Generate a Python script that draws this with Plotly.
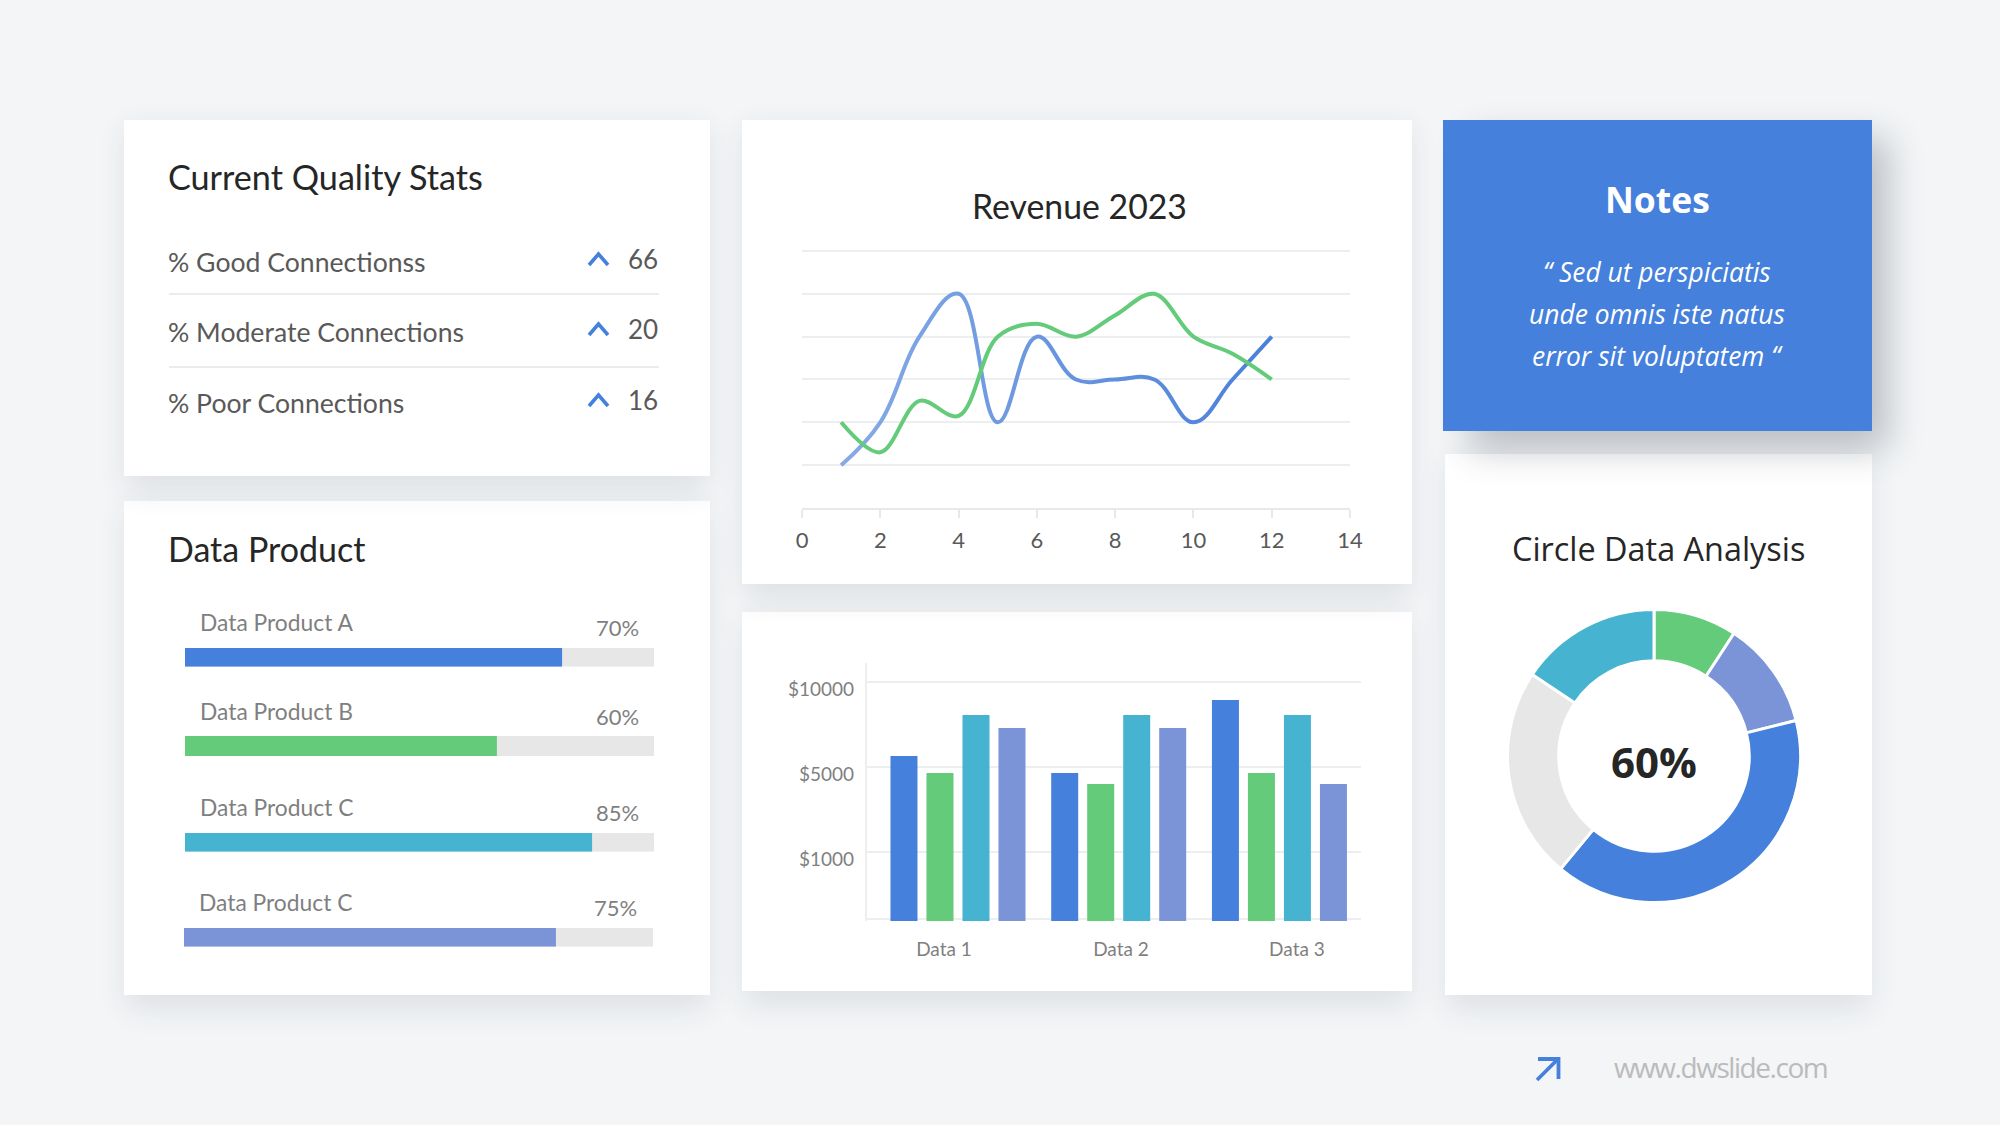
import plotly.graph_objects as go

W, H = 2000, 1125
BG = "#F3F5F7"
BLUE, GREEN, TEAL, PERI, GRAY = "#4580DC", "#63CB79", "#46B3D0", "#7B94D8", "#E7E7E7"
TITLE_FONT = "Lato"
NOTE_FONT = "Open Sans"
SHADOW_SOFT = "rgb(40,50,61)"
SHADOW_HARD = "rgb(40,50,62)"

# ---- data ----
stat_labels = ["% Good Connectionss", "% Moderate Connections", "% Poor Connections"]
stat_values = [66, 20, 16]

product_labels = ["Data Product A", "Data Product B", "Data Product C", "Data Product C"]
product_texts = ["70%", "60%", "85%", "75%"]
product_fill = [80.4, 66.5, 86.8, 79.3]
product_colors = [BLUE, GREEN, TEAL, PERI]

line_x = [1, 2, 3, 4, 5, 6, 7, 8, 9, 10, 11, 12]
line_blue = [1, 2, 4, 5, 2, 4, 3, 3, 3, 2, 3, 4]
line_green = [2, 1.3, 2.5, 2.15, 4, 4.3, 4, 4.5, 5, 4, 3.6, 3]

bar_groups = ["Data 1", "Data 2", "Data 3"]
bar_s1 = [6910, 6200, 9260]
bar_s2 = [6200, 5740, 6200]
bar_s3 = [8630, 8630, 8630]
bar_s4 = [8085, 8085, 5740]
bar_tick_vals = [2880, 6440, 10000]
bar_tick_text = ["$1000", "$5000", "$10000"]

donut_labels = ["Green", "Periwinkle", "Blue", "Gray", "Teal"]
donut_values = [9.2, 11.9, 39.9, 23.4, 15.6]
donut_colors = [GREEN, PERI, BLUE, GRAY, TEAL]

note_lines = ["“ Sed ut perspiciatis", "unde omnis iste natus", "error sit voluptatem “"]


def px(x):
    return x / W


def py(y):
    return 1 - y / H


shapes, annos = [], []


def rect(x0, y0, x1, y1, color, opacity=1):
    shapes.append(dict(type="rect", xref="paper", yref="paper", x0=px(x0), x1=px(x1), y0=py(y0), y1=py(y1),
                       fillcolor=color, opacity=opacity, line_width=0, layer="below"))


def card(x0, y0, x1, y1, color="#FFFFFF"):
    rect(x0 + 2, y0 + 8, x1 - 2, y1 + 14, SHADOW_SOFT, 0.10)
    rect(x0, y0, x1, y1, color)


def text(x, y, s, size, color, family=TITLE_FONT, anchor="left", bold=False, italic=False):
    annos.append(dict(xref="paper", yref="paper", x=px(x), y=py(y), text=f"<b>{s}</b>" if bold else s,
                      showarrow=False, xanchor=anchor, yanchor="middle",
                      font=dict(size=size, color=color, family=family,
                                style="italic" if italic else "normal"), borderpad=0))


def hline(x0, x1, y, color="#E4E6E9", width=1.5):
    shapes.append(dict(type="line", xref="paper", yref="paper", x0=px(x0), x1=px(x1), y0=py(y), y1=py(y),
                       line=dict(color=color, width=width), layer="below"))


def poly(points, color, width):
    d = "M " + " L ".join(f"{px(a):.5f},{py(b):.5f}" for a, b in points)
    shapes.append(dict(type="path", xref="paper", yref="paper", path=d,
                       line=dict(color=color, width=width), layer="above"))


# ---- cards (lower ones first, so the shadow of the upper one falls on them) ----
card(124, 501, 710, 995)
card(124, 120, 710, 476)
card(742, 612, 1412, 991)
card(742, 120, 1412, 584)
card(1445, 454, 1872, 995)
rect(1470, 138, 1888, 450, SHADOW_HARD, 0.28)
rect(1443, 120, 1872, 431, BLUE)

# ---- quality stats ----
text(167, 176.5, "Current Quality Stats", 34.2, "#262626")
for i, (lab, val) in enumerate(zip(stat_labels, stat_values)):
    yl = [261.5, 332, 403][i]
    yv = [259, 329, 400][i]
    text(167, yl, lab, 26.6, "#595959")
    text(659, yv, str(val), 26, "#595959", anchor="right")
    poly([(589, yv + 6), (598.5, yv - 5), (608, yv + 6)], BLUE, 3.6)
hline(169, 659, 294)
hline(169, 659, 367)

# ---- data product ----
text(167, 548.5, "Data Product", 34, "#262626")
prod_geo = [(185, 654, 648, 666.7, 199, 640, 622, 627),
            (185, 654, 736, 756, 199, 640, 711, 716),
            (185, 654, 833, 851.7, 199, 640, 807, 812),
            (184, 653, 928, 946.7, 198, 638, 902, 907)]

fig = go.Figure()
layout_axes = {}

# ---- line chart ----
fig.add_trace(go.Scatter(x=line_x, y=line_blue, mode="lines", xaxis="x", yaxis="y", name="Series 1",
                         line=dict(color="#6B98E0", width=4, shape="spline", smoothing=1.15), hoverinfo="skip"))
fig.add_trace(go.Scatter(x=line_x, y=line_green, mode="lines", xaxis="x", yaxis="y", name="Series 2",
                         line=dict(color=GREEN, width=4, shape="spline", smoothing=1.0), hoverinfo="skip"))
layout_axes["xaxis"] = dict(domain=[px(802), px(1350)], range=[0, 14], dtick=2, anchor="y", showgrid=False,
                            zeroline=False, showline=True, linecolor="#E6E8EA", linewidth=1.5, ticks="outside",
                            ticklen=8, tickcolor="#E6E8EA", tickwidth=1.5, ticklabelstandoff=4,
                            tickfont=dict(size=22, color="#595959", family=TITLE_FONT))
layout_axes["yaxis"] = dict(domain=[py(508), py(246.7)], range=[0, 6.1], tickmode="array", tickvals=[1, 2, 3, 4, 5, 6],
                            anchor="x", gridcolor="#ECEEF0", gridwidth=1.5, zeroline=False, showticklabels=False,
                            showline=False)
text(1079, 206, "Revenue 2023", 33.8, "#262626", anchor="center")

# ---- grouped bars ----
for vals, col, nm in zip([bar_s1, bar_s2, bar_s3, bar_s4], [BLUE, GREEN, TEAL, PERI], ["A", "B", "C", "D"]):
    fig.add_trace(go.Bar(x=[0, 1, 2], y=vals, marker=dict(color=col, line_width=0), xaxis="x2", yaxis="y2",
                         name=nm, hoverinfo="skip"))
layout_axes["xaxis2"] = dict(domain=[px(866.6), px(1361)], range=[-0.5686, 2.5075], anchor="y2", showgrid=False,
                             zeroline=False, showline=False, tickmode="array", tickvals=[-0.087, 1.014, 2.109],
                             ticktext=bar_groups, ticks="", ticklabelstandoff=15,
                             tickfont=dict(size=19, color="#7F7F7F", family=TITLE_FONT))
layout_axes["yaxis2"] = dict(domain=[py(921), py(663)], range=[0, 10810], anchor="x2", tickmode="array",
                             tickvals=[70] + bar_tick_vals, ticktext=[""] + bar_tick_text, gridcolor="#ECEEF0",
                             gridwidth=1.5, zeroline=False, showline=True, linecolor="#ECEEF0", linewidth=1.5, ticks="",
                             ticklabelshift=7, ticklabelstandoff=7,
                             tickfont=dict(size=19, color="#7F7F7F", family=TITLE_FONT))

# ---- progress bars ----
for i, geo in enumerate(prod_geo):
    x0, x1, y0, y1, lx, vx, ly, vy = geo
    n = i + 3
    for val, col in [(100, GRAY), (product_fill[i], product_colors[i])]:
        fig.add_trace(go.Bar(x=[val], y=[0], orientation="h", width=1, offsetgroup="p", marker=dict(color=col, line_width=0),
                             xaxis=f"x{n}", yaxis=f"y{n}", hoverinfo="skip"))
    layout_axes[f"xaxis{n}"] = dict(domain=[px(x0), px(x1)], range=[0, 100], visible=False, anchor=f"y{n}")
    layout_axes[f"yaxis{n}"] = dict(domain=[py(y1), py(y0)], range=[-0.5, 0.5], visible=False, anchor=f"x{n}")
    text(lx, ly, product_labels[i], 22.8, "#7F7F7F")
    text(vx, vy, product_texts[i], 22, "#7F7F7F", anchor="right")

# ---- donut ----
fig.add_trace(go.Pie(labels=donut_labels, values=donut_values, hole=0.65, sort=False, direction="clockwise", rotation=0,
                     marker=dict(colors=donut_colors, line=dict(color="#FFFFFF", width=3)), textinfo="none",
                     hoverinfo="skip", domain=dict(x=[px(1507.5), px(1800.5)], y=[py(902.5), py(609.5)])))
text(1658, 547.5, "Circle Data Analysis", 32.4, "#262626", family=NOTE_FONT, anchor="center")
text(1654, 761, "60%", 42, "#262626", family=NOTE_FONT, anchor="center", bold=True)

# ---- notes ----
text(1657, 199, "Notes", 35.5, "#FFFFFF", family=NOTE_FONT, anchor="center", bold=True)
for s, y in zip(note_lines, [272, 314, 356]):
    text(1657, y, s, 26.4, "#FFFFFF", family=NOTE_FONT, anchor="center", italic=True)

# ---- footer ----
poly([(1537, 1080), (1558, 1059)], BLUE, 3.8)
poly([(1538, 1059), (1558.5, 1059), (1558.5, 1079)], BLUE, 3.8)
text(1602, 1067, "www.dwslide.com", 28, "#BBBBBB", family=NOTE_FONT)

fig.update_layout(width=W, height=H, margin=dict(l=0, r=0, t=0, b=0, autoexpand=False), paper_bgcolor=BG,
                  plot_bgcolor="rgba(0,0,0,0)", showlegend=False, barmode="group", bargap=0.104, bargroupgap=0.25,
                  shapes=shapes, annotations=annos, **layout_axes)

post = """
document.body.style.margin='0';
var svg=document.querySelector('.main-svg');
var defs=svg.querySelector('defs');
var ns='http://www.w3.org/2000/svg';
var g=document.createElementNS(ns,'linearGradient');g.setAttribute('id','blueline');
[['0%','#86AAE5'],['100%','#4A80DA']].forEach(function(s){var t=document.createElementNS(ns,'stop');t.setAttribute('offset',s[0]);t.setAttribute('stop-color',s[1]);g.appendChild(t);});
defs.appendChild(g);
var p=document.querySelector('.scatterlayer .trace path.js-line');
if(p){p.style.stroke='url(#blueline)';}
document.querySelectorAll('.shapelayer path').forEach(function(e){
  if(e.style.fill==='rgb(40, 50, 61)'){e.style.filter='blur(15px)';}
  if(e.style.fill==='rgb(40, 50, 62)'){e.style.filter='blur(18px)';}
});
document.querySelectorAll('.annotation-text').forEach(function(e){
  if(e.textContent==='www.dwslide.com'){e.style.letterSpacing='-1.45px';}
});
"""
fig.write_html("out.html", post_script=post, config=dict(displayModeBar=False))
